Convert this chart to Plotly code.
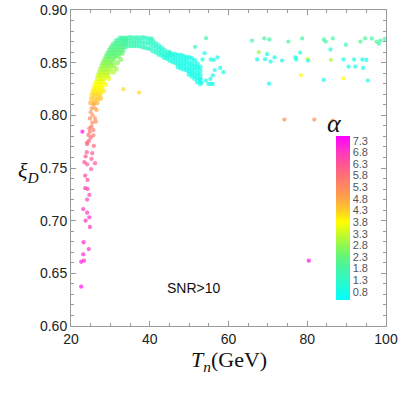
import plotly.graph_objects as go

# ---- dense band, rising part: rows of constant xi ----
rise_xi = [0.812, 0.816, 0.820, 0.823, 0.826, 0.829, 0.832, 0.835, 0.838, 0.841,
           0.844, 0.847, 0.850, 0.853, 0.856, 0.859, 0.862, 0.865, 0.868, 0.871, 0.8735]
rise_T = [
    [25.0, 25.9, 26.6],
    [25.2, 26.0, 26.8, 27.5],
    [25.4, 26.1, 26.8, 27.4],
    [25.6, 26.2, 26.9, 27.6, 28.3],
    [25.9, 26.5, 27.1, 27.8],
    [26.1, 26.7, 27.3, 27.9, 28.8],
    [26.4, 27.0, 27.6, 28.2],
    [26.7, 27.3, 27.9, 28.5, 29.6],
    [26.9, 27.5, 28.1, 28.8, 29.3],
    [27.2, 27.8, 28.4, 29.0, 29.7, 30.8],
    [27.5, 28.1, 28.7, 29.3, 30.0, 31.5],
    [27.8, 28.4, 29.0, 29.6, 30.2, 30.9],
    [28.1, 28.7, 29.3, 29.9, 30.5, 31.8],
    [28.5, 29.1, 29.7, 30.3, 30.9, 32.6],
    [28.9, 29.5, 30.1, 30.7, 31.3, 32.0],
    [29.3, 29.9, 30.5, 31.1, 31.7, 32.3, 33.0],
    [29.7, 30.3, 30.9, 31.5, 32.1, 32.7, 33.3],
    [30.2, 30.8, 31.4, 32.0, 32.6, 33.2],
    [30.8, 31.4, 32.0, 32.6, 33.2, 33.8],
    [31.5, 32.1, 32.7, 33.3, 33.9],
    [32.4, 33.0, 33.6],
]
rise_alpha = [4.6, 4.4, 4.2, 4.0, 3.9, 3.8, 3.7, 3.5, 3.4, 3.2,
              3.0, 2.9, 2.7, 2.6, 2.4, 2.3, 2.2, 2.1, 2.0, 1.9, 1.8]

# ---- dense band, plateau and decline: columns of constant T ----
decl_T = [33.9, 34.6, 35.3, 36.0, 36.7, 37.4, 38.1, 38.8, 39.5, 40.2, 40.9, 41.6,
          42.3, 43.0, 43.7, 44.4, 45.1, 45.8, 46.5, 47.2, 47.9, 48.6, 49.3, 50.0,
          50.7, 51.4, 52.1, 52.8]
decl_xi = [
    [0.873, 0.869, 0.865],
    [0.874, 0.870, 0.866],
    [0.874, 0.870, 0.866],
    [0.8735, 0.8695, 0.866],
    [0.874, 0.870, 0.866],
    [0.8735, 0.870, 0.866],
    [0.874, 0.8695, 0.865],
    [0.8735, 0.869, 0.8645],
    [0.873, 0.869, 0.864],
    [0.872, 0.868, 0.863],
    [0.870, 0.866, 0.861],
    [0.868, 0.864, 0.860],
    [0.866, 0.862, 0.858],
    [0.864, 0.860, 0.857],
    [0.862, 0.858, 0.855],
    [0.860, 0.857, 0.854],
    [0.859, 0.856, 0.852],
    [0.858, 0.855, 0.851],
    [0.858, 0.854, 0.850],
    [0.857, 0.853, 0.849, 0.846],
    [0.857, 0.853, 0.849, 0.845],
    [0.856, 0.852, 0.848, 0.844],
    [0.855, 0.851, 0.847, 0.843],
    [0.855, 0.850, 0.846, 0.842, 0.839],
    [0.854, 0.849, 0.845, 0.841, 0.837],
    [0.852, 0.847, 0.843, 0.839, 0.835],
    [0.849, 0.845, 0.840, 0.836, 0.832],
    [0.846, 0.842, 0.838, 0.834, 0.830],
]
decl_alpha = [1.8, 1.7, 1.65, 1.6, 1.55, 1.5, 1.45, 1.4, 1.35, 1.3, 1.25, 1.2,
              1.15, 1.1, 1.05, 1.0, 0.95, 0.9, 0.9, 0.85, 0.85, 0.8, 0.8, 0.8,
              0.8, 0.8, 0.8, 0.8]

# ---- scattered points ----
sc_T = [22.6, 22.6, 23.3, 23.1, 24.5, 23.2, 24.8, 23.7, 24.65, 24.1, 23.1, 24.1, 24.65,
        23.6, 24.2, 24.2, 23.6, 25.1, 24.1, 26.1, 23.4, 25.2, 23.7, 25.4, 24.0, 25.8,
        24.1, 24.6, 24.1, 22.9,
        25.2, 24.65, 25.7, 24.8, 24.4, 25.7, 25.0,
        25.7, 26.1, 25.25, 26.5, 25.5, 26.1, 24.8, 26.3, 25.0, 25.4,
        33.3, 37.3, 40.5, 45.1, 51.5,
        53.9, 53.4, 55.5, 56.3, 57.2, 56.5, 57.9, 58.7, 56.0, 55.4, 54.3, 53.2, 54.9,
        55.5, 56.0, 52.9,
        54.3, 66.0, 69.1, 70.4, 75.2, 78.7, 84.2, 84.7, 86.5, 89.8, 93.5, 94.7, 96.4,
        97.6, 98.2, 98.6, 99.7,
        67.7, 80.0, 86.0, 78.4, 89.2,
        67.3, 69.3, 69.8, 70.7, 71.7, 73.6, 77.0, 77.2, 78.2, 80.2, 70.3, 85.9, 84.2,
        89.2, 90.5, 91.9, 92.2, 94.0, 94.2, 95.0, 95.4,
        74.2, 81.8, 86.5,
        80.4]
sc_xi = [0.6373, 0.661, 0.662, 0.668, 0.673, 0.6795, 0.694, 0.700, 0.7032, 0.7076, 0.711,
         0.720, 0.7244, 0.7308, 0.7301, 0.7387, 0.7427, 0.749, 0.7535, 0.7545, 0.7555,
         0.7586, 0.761, 0.764, 0.765, 0.771, 0.7728, 0.776, 0.774, 0.7845,
         0.7893, 0.7877, 0.786, 0.7845, 0.7814, 0.781, 0.779,
         0.810, 0.8067, 0.8067, 0.805, 0.800, 0.797, 0.797, 0.794, 0.803, 0.793,
         0.8248, 0.8216, 0.873, 0.860, 0.865,
         0.859, 0.853, 0.853, 0.8526, 0.855, 0.843, 0.845, 0.841, 0.838, 0.8346, 0.833,
         0.831, 0.8298, 0.8298, 0.8298, 0.8346,
         0.8732, 0.871, 0.873, 0.872, 0.870, 0.873, 0.872, 0.870, 0.873, 0.867, 0.870,
         0.873, 0.873, 0.870, 0.868, 0.871, 0.8725,
         0.860, 0.8536, 0.8527, 0.838, 0.835,
         0.853, 0.8533, 0.858, 0.851, 0.855, 0.852, 0.855, 0.853, 0.8596, 0.852, 0.830,
         0.8625, 0.8336, 0.853, 0.8463, 0.853, 0.8463, 0.853, 0.845, 0.8526, 0.833,
         0.796, 0.796, 0.795,
         0.662]
sc_alpha = [7.3, 7.1, 7.0, 7.0, 6.9, 7.0, 6.9, 6.9, 6.8, 6.8, 6.9, 6.7, 6.6, 6.7, 6.6,
            6.5, 6.5, 6.3, 6.3, 6.2, 6.4, 6.2, 6.3, 6.1, 6.2, 6.0, 6.1, 6.0, 6.0, 7.3,
            5.6, 5.7, 5.6, 5.7, 5.8, 5.6, 5.8,
            4.8, 4.9, 5.0, 4.8, 5.1, 5.1, 5.3, 5.2, 5.1, 5.3,
            4.2, 4.2, 1.5, 1.2, 1.3,
            0.8, 0.8, 0.8, 0.8, 0.8, 0.8, 0.8, 0.8, 0.8, 0.8, 0.8, 0.8, 0.8, 0.8, 0.8, 0.8,
            1.8, 1.8, 1.8, 1.8, 1.9, 1.8, 1.8, 1.8, 1.8, 1.7, 1.9, 1.8, 1.8, 2.0, 1.6,
            1.8, 1.8,
            2.9, 3.6, 3.0, 3.8, 3.8,
            0.8, 0.8, 0.8, 0.8, 0.8, 0.8, 0.8, 0.8, 0.9, 0.8, 0.8, 1.0, 0.8, 0.8, 0.8,
            0.8, 0.8, 0.8, 0.8, 0.8, 0.8,
            5.2, 5.2, 5.3,
            7.3]

cbar_ticks = [0.8, 1.3, 1.8, 2.3, 2.8, 3.3, 3.8, 4.3, 4.8, 5.3, 5.8, 6.3, 6.8, 7.3]
x_ticks = [20, 40, 60, 80, 100]

# ---- assemble ----
T_all, xi_all, a_all, s_all = [], [], [], []
for xi, Ts, a in zip(rise_xi, rise_T, rise_alpha):
    for t in Ts:
        T_all.append(t); xi_all.append(xi); a_all.append(a); s_all.append(5)
for t, xis, a in zip(decl_T, decl_xi, decl_alpha):
    for xi in xis:
        T_all.append(t); xi_all.append(xi); a_all.append(a); s_all.append(5)
T_all += sc_T; xi_all += sc_xi; a_all += sc_alpha; s_all += [4.3] * len(sc_T)

cmin, cmax = 0.45, 7.5
def nz(v):
    return (v - cmin) / (cmax - cmin)
colorscale = [
    [0.0, "#00FFFF"], [nz(1.3), "#30F8C8"], [nz(1.8), "#45F5A5"], [nz(2.3), "#60F57A"],
    [nz(2.8), "#90F850"], [nz(3.3), "#C8FA28"], [nz(3.8), "#FFFF00"], [nz(4.3), "#FFCC25"],
    [nz(4.8), "#FFA545"], [nz(5.3), "#FF8A5E"], [nz(5.8), "#FF7075"], [nz(6.3), "#FF5595"],
    [nz(6.8), "#FF38C0"], [1.0, "#FF00FF"],
]

W, H = 399, 393
L, R, Tm, B = 71, 13, 10, 67
pw, ph = W - L - R, H - Tm - B
PX0, PY0 = L, H - B  # pixel of plot origin (left, bottom)

def px(xp):
    return (xp - PX0) / pw
def py(yp):
    return (PY0 - yp) / ph

fig = go.Figure()
fig.add_trace(go.Scatter(
    x=T_all, y=xi_all, mode="markers",
    marker=dict(size=s_all, color=a_all, colorscale=colorscale, cmin=cmin, cmax=cmax,
                line=dict(width=0),
                colorbar=dict(
                    thickness=14, x=px(336), xanchor="left",
                    y=py(218), yanchor="middle", len=164 / ph, lenmode="fraction",
                    outlinewidth=0, xpad=0, ypad=0,
                    tickvals=cbar_ticks, ticktext=[f"{v:.1f}" for v in cbar_ticks],
                    ticks="", tickfont=dict(size=11, color="#555", family="Liberation Sans"),
                )),
    showlegend=False, hoverinfo="skip",
))

axis_common = dict(showline=True, linecolor="#9a9a9a", linewidth=1, mirror="ticks",
                   ticks="inside", tickcolor="#9a9a9a", ticklen=5, showgrid=False,
                   zeroline=False, automargin=False,
                   tickfont=dict(size=14, color="#222", family="Liberation Sans"))
fig.update_xaxes(range=[20, 100], tickvals=x_ticks,
                 minor=dict(dtick=5, ticks="inside", ticklen=3, tickcolor="#9a9a9a"),
                 **axis_common)
fig.update_yaxes(range=[0.6, 0.9], dtick=0.05, tick0=0.6, tickformat=".2f",
                 minor=dict(dtick=0.01, ticks="inside", ticklen=3, tickcolor="#9a9a9a"),
                 **axis_common)

fig.add_annotation(x=px(229), y=py(377), xref="paper", yref="paper",
                   text="<i>T</i><sub><i>n</i></sub>(GeV)", showarrow=False,
                   font=dict(size=22, family="Liberation Serif", color="#111"))
fig.add_annotation(x=px(16), y=py(172), xref="paper", yref="paper",
                   text="<i>ξ</i><sub><i>D</i></sub>", showarrow=False,
                   font=dict(size=22, family="Liberation Serif", color="#111"))
fig.add_annotation(x=px(344), y=py(107), xref="paper", yref="paper",
                   text="<i>α</i>", showarrow=False,
                   font=dict(size=26, family="Liberation Serif", color="#111"))
fig.add_annotation(x=px(165), y=py(298), xref="paper", yref="paper",
                   text="SNR>10", showarrow=False,
                   font=dict(size=14, family="Liberation Sans", color="#111"))

fig.update_layout(width=W, height=H, margin=dict(l=L, r=R, t=Tm, b=B, autoexpand=False),
                  plot_bgcolor="white", paper_bgcolor="white", hovermode=False)
# remove the browser's default 8px body margin so the figure sits at the page origin
fig.write_html("out.html", config={"displayModeBar": False},
               post_script="document.body.style.margin='0';")
